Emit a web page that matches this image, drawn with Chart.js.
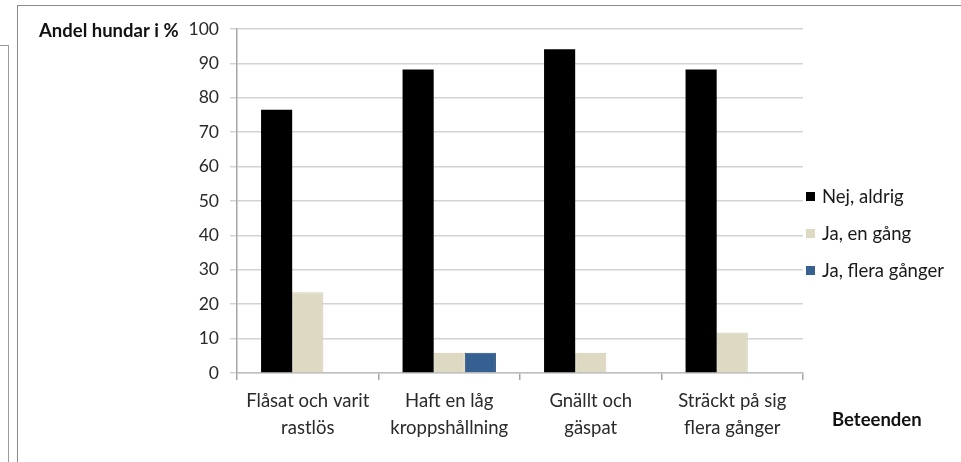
<!DOCTYPE html>
<html>
<head>
<meta charset="utf-8">
<script src="https://cdn.jsdelivr.net/npm/chart.js@4/dist/chart.umd.min.js"></script>
<style>
  html, body { margin: 0; padding: 0; background: #fff; }
  #wrap { position: relative; width: 961px; height: 462px; overflow: hidden; }
  /* frame of the chart object and the neighbouring box on the left */
  .frame { position: absolute; border: 1.5px solid #8a8a8a; background: transparent; }
  #mainFrame { left: 17px; top: 5px; width: 1000px; height: 500px; }
  #sideFrame { left: -10px; top: 45px; width: 17px; height: 500px; border-color: #9a9a9a; }
  canvas { position: absolute; left: 0; top: 0; }
</style>
</head>
<body>
<div id="wrap">
  <div class="frame" id="sideFrame"></div>
  <div class="frame" id="mainFrame"></div>
  <canvas id="chart" width="961" height="462"></canvas>
</div>
<script>
// Andel hundar (%) per beteende och svarsalternativ
const categories = [
    ['Flåsat och varit', 'rastlös'],
    ['Haft en låg', 'kroppshållning'],
    ['Gnällt och', 'gäspat'],
    ['Sträckt på sig', 'flera gånger']
];
const seriesNames = ['Nej, aldrig', 'Ja, en gång', 'Ja, flera gånger'];
const nejAldrig = [76.5, 88.2, 94.1, 88.2];
const jaEnGang = [23.5, 5.9, 5.9, 11.8];
const jaFleraGanger = [0, 5.9, 0, 0];
const yTicks = [0, 10, 20, 30, 40, 50, 60, 70, 80, 90, 100];

const yTitle = 'Andel hundar i %';
const xTitle = 'Beteenden';

const fontFamily = 'Lato, "Open Sans", sans-serif';

// Legend and axis titles drawn on the canvas
const extrasPlugin = {
    id: 'extras',
    afterDraw(chart) {
        const ctx = chart.ctx;
        ctx.save();
        ctx.textBaseline = 'middle';

        // legend
        ctx.font = '18.5px ' + fontFamily;
        chart.data.datasets.forEach((ds, i) => {
            const y = 196 + i * 37;
            ctx.fillStyle = ds.backgroundColor;
            ctx.fillRect(806, y - 4, 9, 9);
            ctx.fillStyle = '#1a1a1a';
            ctx.textAlign = 'left';
            ctx.fillText(ds.label, 822, y + 1);
        });

        // axis titles
        ctx.font = 'bold 18.5px ' + fontFamily;
        ctx.fillStyle = '#111';
        ctx.textAlign = 'left';
        ctx.fillText(yTitle, 39, 31);
        ctx.fillText(xTitle, 832, 420);
        ctx.restore();
    }
};

new Chart(document.getElementById('chart'), {
    type: 'bar',
    data: {
        labels: categories,
        datasets: [
            { label: seriesNames[0], data: nejAldrig, backgroundColor: '#000000', borderColor: '#000000', borderWidth: 0 },
            { label: seriesNames[1], data: jaEnGang, backgroundColor: '#ddd9c3', borderColor: '#d2cdb4', borderWidth: 1 },
            { label: seriesNames[2], data: jaFleraGanger, backgroundColor: '#376092', borderColor: '#2a4d78', borderWidth: 1 }
        ]
    },
    options: {
        responsive: false,
        animation: false,
        layout: { padding: { top: 29, right: 158, left: 0, bottom: 0 } },
        plugins: {
            legend: { display: false },
            tooltip: { enabled: false }
        },
        datasets: {
            bar: { categoryPercentage: 0.66, barPercentage: 1.0 }
        },
        scales: {
            x: {
                offset: true,
                grid: { display: true, drawOnChartArea: false, drawTicks: true, tickLength: 7, color: '#a6a6a6', lineWidth: 1.5, offset: true },
                border: { display: true, color: '#bfbfbf', width: 1.5 },
                ticks: {
                    color: '#2a2a2a',
                    font: { family: fontFamily, size: 18.5, lineHeight: 1.43 },
                    padding: 8,
                    maxRotation: 0,
                    autoSkip: false
                },
                afterFit(scale) { scale.height = 89; }
            },
            y: {
                min: 0,
                max: 100,
                afterBuildTicks(scale) { scale.ticks = yTicks.map(v => ({ value: v })); },
                grid: { color: '#d3d3d3', lineWidth: 1.5, tickLength: 7, drawTicks: true },
                border: { display: true, color: '#a6a6a6', width: 1.5 },
                ticks: {
                    color: '#2a2a2a',
                    font: { family: fontFamily, size: 17.5 },
                    padding: 11
                },
                afterFit(scale) { scale.width = 237; }
            }
        }
    },
    plugins: [extrasPlugin]
});
</script>
</body>
</html>
